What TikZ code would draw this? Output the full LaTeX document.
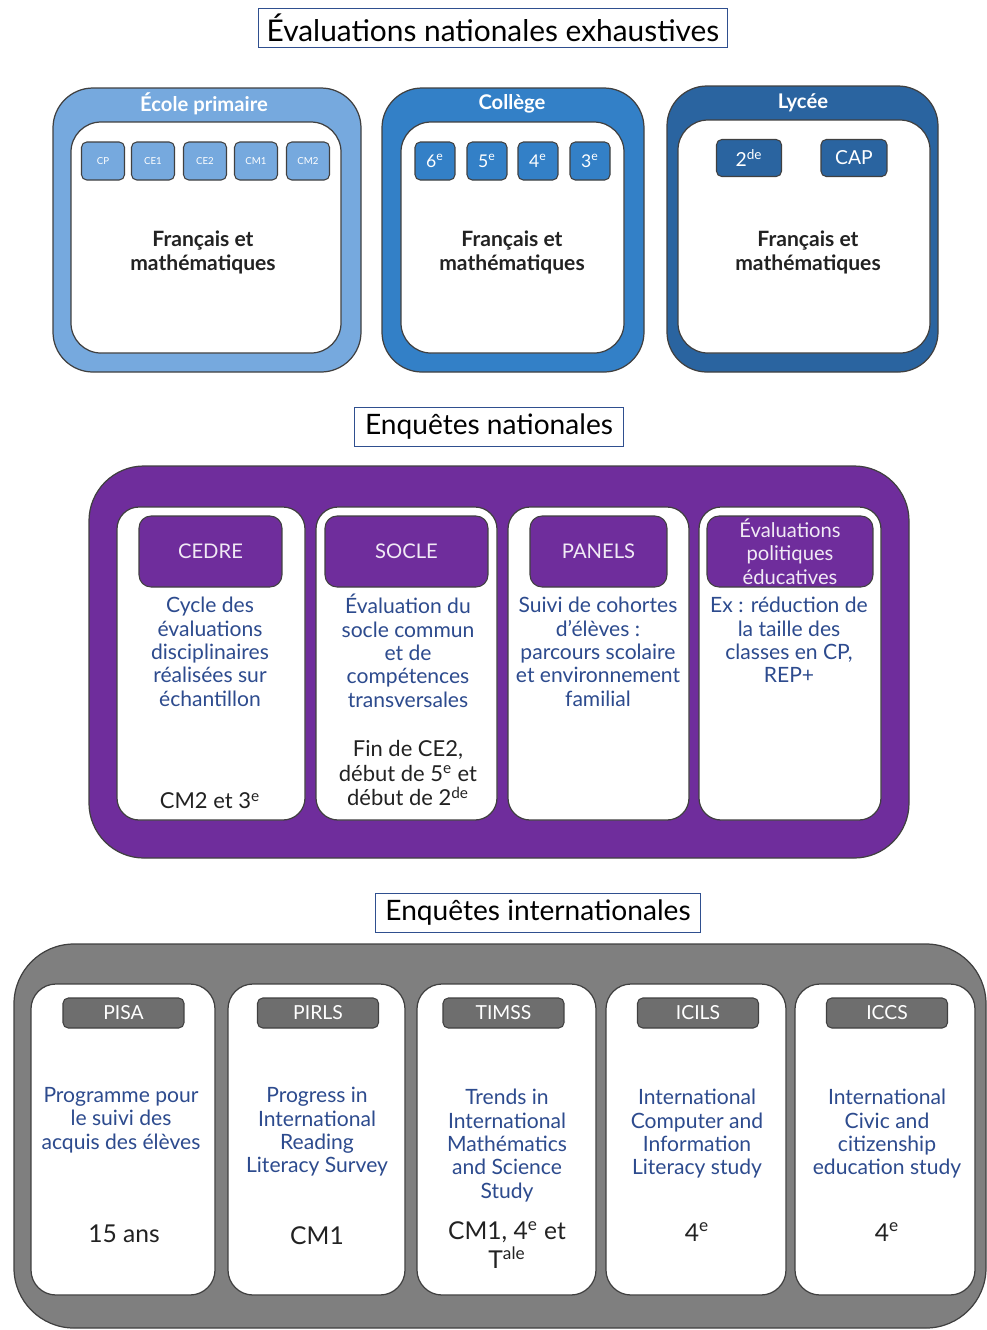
\documentclass[tikz,border=0pt]{standalone}
\usepackage{fontspec}
\setmainfont{Lato}
\usepackage{tikz}
\usetikzlibrary{positioning}
\definecolor{lightblue}{HTML}{76A9DE}
\definecolor{midblue}{HTML}{3380C7}
\definecolor{darkblue}{HTML}{2A64A0}
\definecolor{enqpurple}{HTML}{6F2D9C}
\definecolor{enqgrey}{HTML}{7F7F7F}
\definecolor{headgrey}{HTML}{6E6E6E}
\definecolor{descblue}{HTML}{2D4B8E}
\definecolor{frameblue}{HTML}{2F4F8F}
\definecolor{ink}{HTML}{222222}
\tikzset{%
    titlebox/.style={draw=frameblue, line width=0.6pt, inner sep=0pt,
        minimum height=0.78cm, font=\fontsize{16}{18}\selectfont},
    band/.style={draw=black!75, line width=0.7pt, rounded corners=#1},
    panel/.style={fill=white, draw=black!75, line width=0.7pt, rounded corners=#1},
    bandtitle/.style={text=white, font=\bfseries\fontsize{11.5}{13}\selectfont},
    grade/.style={draw=black!75, line width=0.6pt, rounded corners=3pt, text=white,
        inner sep=0pt, minimum height=0.76cm, minimum width=#1},
    subject/.style={align=center, text=ink, font=\bfseries\fontsize{12}{13.6}\selectfont},
    phead/.style={fill=enqpurple, draw=black!75, line width=0.6pt, rounded corners=0.24cm,
        minimum height=1.42cm, minimum width=#1, inner sep=0pt, align=center,
        text=white!90!enqpurple, font=\fontsize{11.5}{13.3}\selectfont},
    ghead/.style={fill=headgrey, draw=black!75, line width=0.6pt, rounded corners=3pt,
        minimum height=0.6cm, minimum width=2.42cm, inner sep=0pt,
        text=white, font=\fontsize{11}{13}\selectfont},
    desc/.style={anchor=north, inner sep=0pt, align=center, text=descblue,
        font=\fontsize{12}{13.3}\selectfont},
    level/.style={inner sep=0pt, align=center, text=ink, font=\fontsize{12.5}{14.2}\selectfont},
    ilevel/.style={inner sep=0pt, align=center, text=ink, font=\fontsize{14}{16.5}\selectfont}
}
\begin{document}
\begin{tikzpicture}[x=0.02cm, y=-0.02cm]
\useasboundingbox (0,0) rectangle (987,1330);

% evaluations exhaustives
\node[titlebox, minimum width=9.4cm, font=\fontsize{17}{19}\selectfont] (exh) at (493,28) {Évaluations nationales exhaustives};

\draw[band=0.8cm, fill=lightblue] (53,88) rectangle (361,372);
\draw[panel=0.6cm] (71,122) rectangle (341,353);
\node[bandtitle] (ecole) at (204,104) {École primaire};
\node[grade=0.86cm, fill=lightblue, font=\fontsize{5.5}{6}\selectfont] (cp)  at (103,161) {CP};
\node[grade=0.86cm, fill=lightblue, font=\fontsize{5.5}{6}\selectfont] (ce1) at (153,161) {CE1};
\node[grade=0.86cm, fill=lightblue, font=\fontsize{5.5}{6}\selectfont] (ce2) at (205,161) {CE2};
\node[grade=0.86cm, fill=lightblue, font=\fontsize{5.5}{6}\selectfont] (cm1) at (256,161) {CM1};
\node[grade=0.86cm, fill=lightblue, font=\fontsize{5.5}{6}\selectfont] (cm2) at (308,161) {CM2};
\node[subject] (ecole-sub) at (203,252) {Français et\\mathématiques};

\draw[band=0.8cm, fill=midblue] (382,88) rectangle (644,372);
\draw[panel=0.6cm] (401,122) rectangle (624,353);
\node[bandtitle] (college) at (512,104) {Collège};
\node[grade=0.8cm, fill=midblue, font=\fontsize{10}{12}\selectfont] (g6) at (435,161) {6\textsuperscript{e}};
\node[grade=0.8cm, fill=midblue, font=\fontsize{10}{12}\selectfont] (g5) at (487,161) {5\textsuperscript{e}};
\node[grade=0.8cm, fill=midblue, font=\fontsize{10}{12}\selectfont] (g4) at (538,161) {4\textsuperscript{e}};
\node[grade=0.8cm, fill=midblue, font=\fontsize{10}{12}\selectfont] (g3) at (590,161) {3\textsuperscript{e}};
\node[subject] (college-sub) at (512,252) {Français et\\mathématiques};

\draw[band=0.8cm, fill=darkblue] (667,86) rectangle (938,372);
\draw[panel=0.6cm] (678,120) rectangle (930,353);
\node[bandtitle] (lycee) at (803,103) {Lycée};
\node[grade=1.3cm, fill=darkblue, minimum height=0.74cm, font=\fontsize{11}{13}\selectfont] (g2) at (749,158) {2\textsuperscript{de}};
\node[grade=1.32cm, fill=darkblue, minimum height=0.74cm, font=\fontsize{11}{13}\selectfont] (cap) at (854,158) {CAP};
\node[subject] (lycee-sub) at (808,252) {Français et\\mathématiques};

% enquetes nationales
\node[titlebox, minimum width=5.38cm] (nat) at (489,427) {Enquêtes nationales};

\draw[band=1.1cm, fill=enqpurple] (89,466) rectangle (909,858);
\draw[panel=0.44cm] (117,507) rectangle (305,820);
\draw[panel=0.44cm] (316,507) rectangle (497,820);
\draw[panel=0.44cm] (508,507) rectangle (689,820);
\draw[panel=0.44cm] (699,507) rectangle (881,820);

\node[phead=2.86cm] (cedre)  at (210.5,551.5) {CEDRE};
\node[phead=3.26cm] (socle)  at (406.5,551.5) {SOCLE};
\node[phead=2.74cm] (panels) at (598.5,551.5) {PANELS};
\node[phead=3.32cm] (evalpol) at (790,551.5) {Évaluations\\politiques\\éducatives};

\node[desc] (cedre-txt)  at (210,597) {Cycle des\\évaluations\\disciplinaires\\réalisées sur\\échantillon};
\node[desc] (socle-txt)  at (408,594) {Évaluation du\\socle commun\\et de\\compétences\\transversales};
\node[desc] (panels-txt) at (598,597) {Suivi de cohortes\\d’élèves :\\parcours scolaire\\et environnement\\familial};
\node[desc] (evalpol-txt) at (789,597) {Ex : réduction de\\la taille des\\classes en CP,\\REP+};

\node[level] (cedre-niv) at (210,801) {CM2 et 3\textsuperscript{e}};
\node[level] (socle-niv) at (408,773) {Fin de CE2,\\début de 5\textsuperscript{e} et\\début de 2\textsuperscript{de}};

% enquetes internationales
\node[titlebox, minimum width=6.5cm] (inter) at (538,913) {Enquêtes internationales};

\draw[band=1.2cm, fill=enqgrey] (14,944) rectangle (986,1328);
\draw[panel=0.5cm] (31,984) rectangle (215,1295);
\draw[panel=0.5cm] (228,984) rectangle (405,1295);
\draw[panel=0.5cm] (417,984) rectangle (596,1295);
\draw[panel=0.5cm] (606,984) rectangle (786,1295);
\draw[panel=0.5cm] (795,984) rectangle (975,1295);

\node[ghead] (pisa)  at (123.5,1013) {PISA};
\node[ghead] (pirls) at (318,1013) {PIRLS};
\node[ghead] (timss) at (503.5,1013) {TIMSS};
\node[ghead] (icils) at (698,1013) {ICILS};
\node[ghead] (iccs)  at (887,1013) {ICCS};

\node[desc] (pisa-txt)  at (121,1087) {Programme pour\\le suivi des\\acquis des élèves};
\node[desc] (pirls-txt) at (317,1087) {Progress in\\International\\Reading\\Literacy Survey};
\node[desc] (timss-txt) at (507,1089) {Trends in\\International\\Mathématics\\and Science\\Study};
\node[desc] (icils-txt) at (697,1089) {International\\Computer and\\Information\\Literacy study};
\node[desc] (iccs-txt)  at (887,1089) {International\\Civic and\\citizenship\\education study};

\node[ilevel] (pisa-niv)  at (124,1234) {15 ans};
\node[ilevel] (pirls-niv) at (317,1236) {CM1};
\node[ilevel] (timss-niv) at (507,1245) {CM1, 4\textsuperscript{e} et\\T\textsuperscript{ale}};
\node[ilevel] (icils-niv) at (697,1232) {4\textsuperscript{e}};
\node[ilevel] (iccs-niv)  at (887,1232) {4\textsuperscript{e}};
\end{tikzpicture}
\end{document}
